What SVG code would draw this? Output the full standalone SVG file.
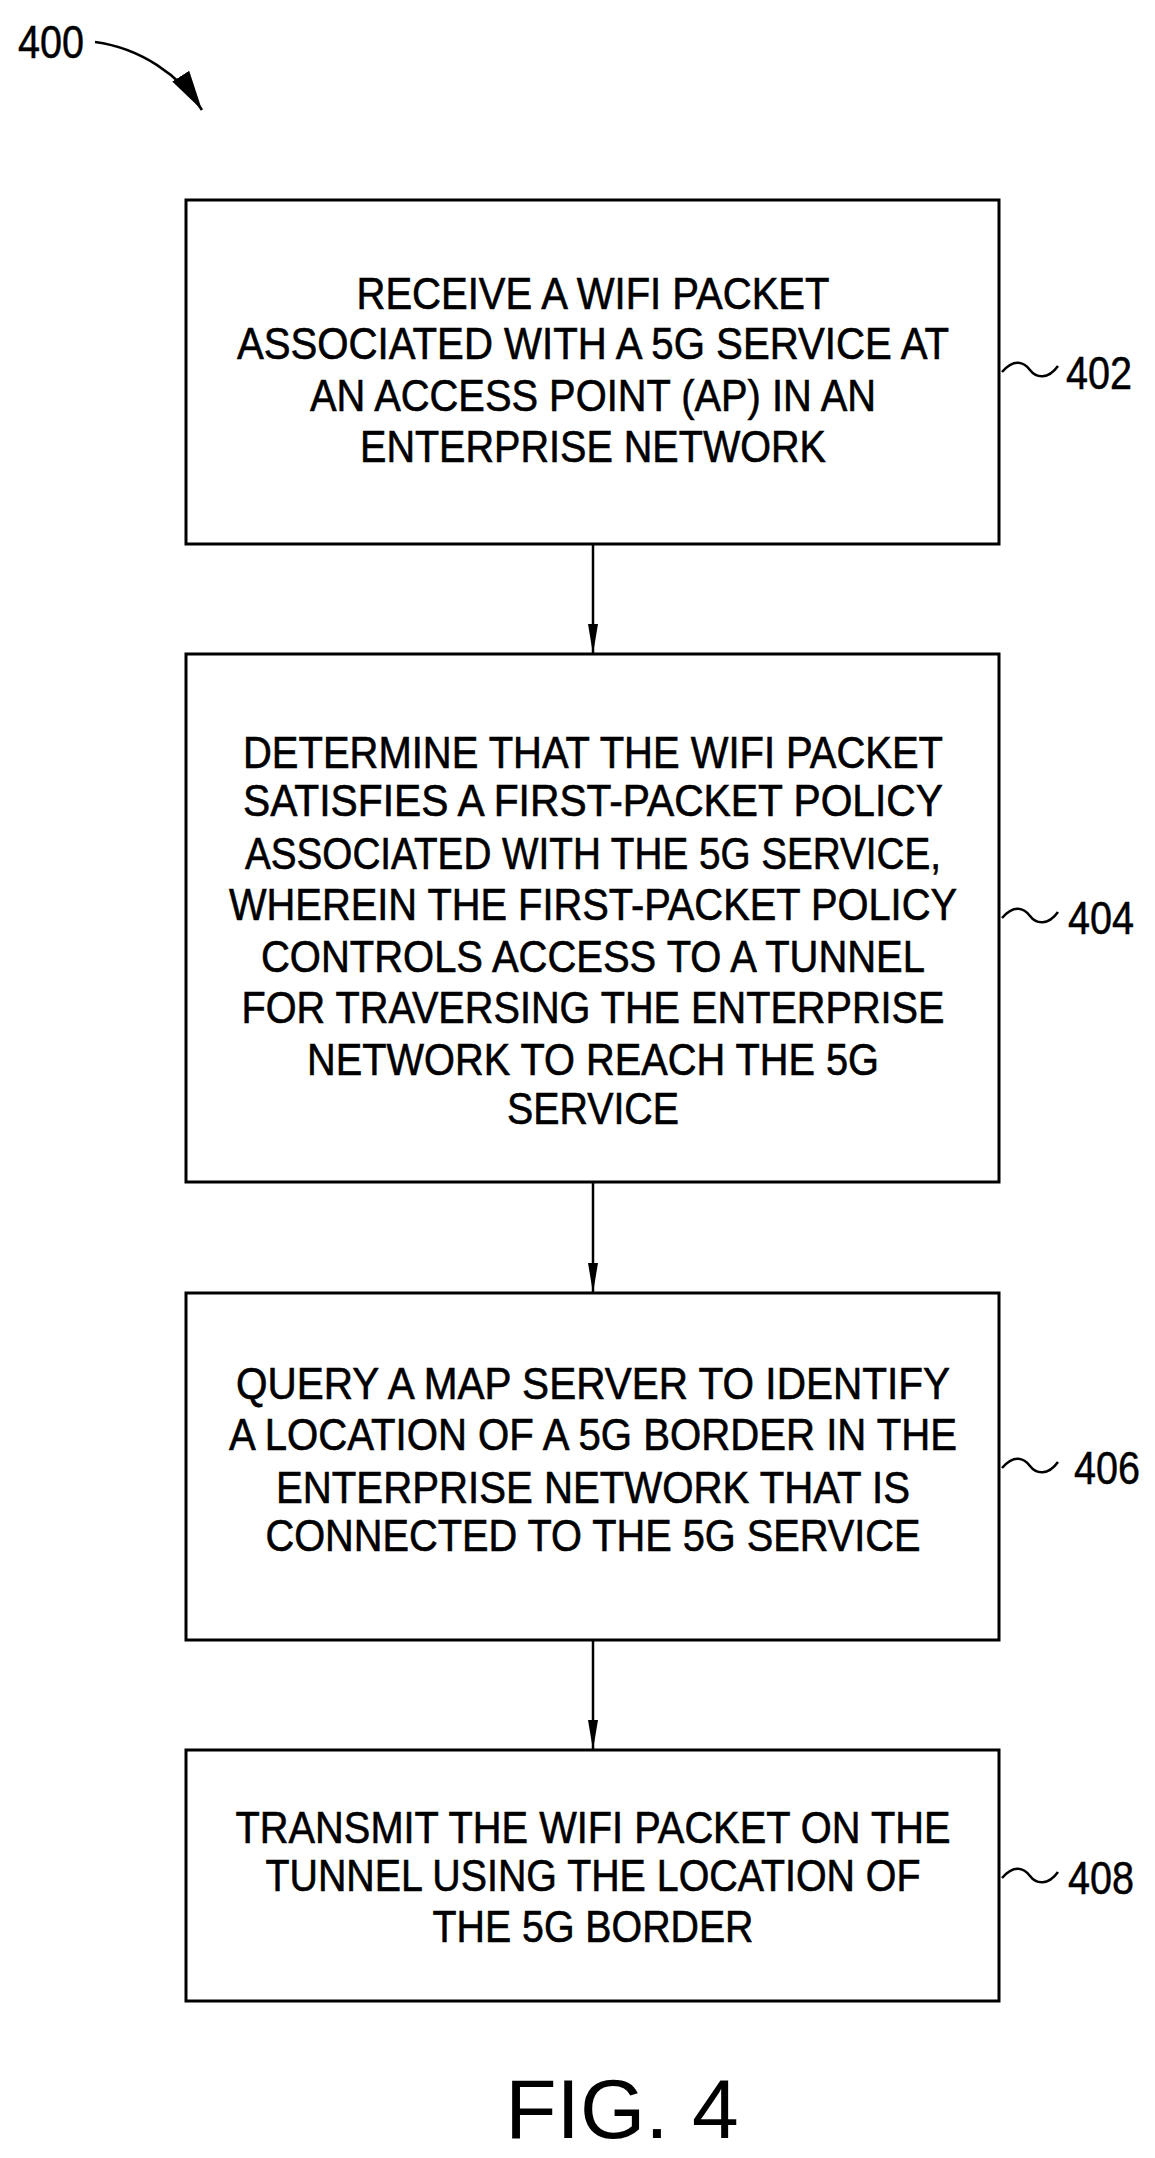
<svg xmlns="http://www.w3.org/2000/svg" width="1155" height="2158" viewBox="0 0 1155 2158">
<style>
.b{fill:#fff;stroke:#000;stroke-width:3}
.t{font-family:"Liberation Sans",Arial,sans-serif;font-size:44px;text-anchor:middle;fill:#000;stroke:#000;stroke-width:0.6}
.l{font-family:"Liberation Sans",Arial,sans-serif;font-size:46px;fill:#000;stroke:#000;stroke-width:0.5}
.c{fill:none;stroke:#000;stroke-width:2.5}
</style>
<defs><marker id="a" viewBox="0 0 30 10" refX="30" refY="5" markerWidth="30" markerHeight="10" markerUnits="userSpaceOnUse" orient="auto"><path d="M0,0 L30,5 L0,10 Z" fill="#000"/></marker>
<marker id="a2" viewBox="0 0 40 20" refX="40" refY="10" markerWidth="40" markerHeight="20" markerUnits="userSpaceOnUse" orient="auto"><path d="M0,0 L40,10 L0,20 Z" fill="#000"/></marker></defs>
<rect width="1155" height="2158" fill="#fff"/>
<g id="label400"><text class="l" x="18" y="58" textLength="66" lengthAdjust="spacingAndGlyphs">400</text>
<path class="c" d="M95,42 C140,48 180,75 202,110" marker-end="url(#a2)"/></g>
<g id="n402"><rect class="b" x="186" y="200" width="813" height="344"/>
<text class="t" x="593" y="309" textLength="473" lengthAdjust="spacingAndGlyphs">RECEIVE A WIFI PACKET</text>
<text class="t" x="593" y="359" textLength="712" lengthAdjust="spacingAndGlyphs">ASSOCIATED WITH A 5G SERVICE AT</text>
<text class="t" x="593" y="411" textLength="566" lengthAdjust="spacingAndGlyphs">AN ACCESS POINT (AP) IN AN</text>
<text class="t" x="593" y="462" textLength="466" lengthAdjust="spacingAndGlyphs">ENTERPRISE NETWORK</text>
<path class="c" d="M1002,372 c12,-14 22,-10 28,-2 s18,10 28,-4"/>
<text class="l" x="1066" y="389" textLength="66" lengthAdjust="spacingAndGlyphs">402</text></g>
<g id="n404"><rect class="b" x="186" y="654" width="813" height="528"/>
<text class="t" x="593" y="768" textLength="700" lengthAdjust="spacingAndGlyphs">DETERMINE THAT THE WIFI PACKET</text>
<text class="t" x="593" y="816" textLength="700" lengthAdjust="spacingAndGlyphs">SATISFIES A FIRST-PACKET POLICY</text>
<text class="t" x="593" y="869" textLength="696" lengthAdjust="spacingAndGlyphs">ASSOCIATED WITH THE 5G SERVICE,</text>
<text class="t" x="593" y="920" textLength="728" lengthAdjust="spacingAndGlyphs">WHEREIN THE FIRST-PACKET POLICY</text>
<text class="t" x="593" y="972" textLength="664" lengthAdjust="spacingAndGlyphs">CONTROLS ACCESS TO A TUNNEL</text>
<text class="t" x="593" y="1023" textLength="703" lengthAdjust="spacingAndGlyphs">FOR TRAVERSING THE ENTERPRISE</text>
<text class="t" x="593" y="1075" textLength="572" lengthAdjust="spacingAndGlyphs">NETWORK TO REACH THE 5G</text>
<text class="t" x="593" y="1124" textLength="172" lengthAdjust="spacingAndGlyphs">SERVICE</text>
<path class="c" d="M1002,918 c12,-14 22,-10 28,-2 s18,10 28,-4"/>
<text class="l" x="1068" y="934" textLength="66" lengthAdjust="spacingAndGlyphs">404</text></g>
<g id="n406"><rect class="b" x="186" y="1293" width="813" height="347"/>
<text class="t" x="593" y="1399" textLength="714" lengthAdjust="spacingAndGlyphs">QUERY A MAP SERVER TO IDENTIFY</text>
<text class="t" x="593" y="1450" textLength="728" lengthAdjust="spacingAndGlyphs">A LOCATION OF A 5G BORDER IN THE</text>
<text class="t" x="593" y="1503" textLength="634" lengthAdjust="spacingAndGlyphs">ENTERPRISE NETWORK THAT IS</text>
<text class="t" x="593" y="1551" textLength="655" lengthAdjust="spacingAndGlyphs">CONNECTED TO THE 5G SERVICE</text>
<path class="c" d="M1002,1468 c12,-14 22,-10 28,-2 s18,10 28,-4"/>
<text class="l" x="1074" y="1484" textLength="66" lengthAdjust="spacingAndGlyphs">406</text></g>
<g id="n408"><rect class="b" x="186" y="1750" width="813" height="251"/>
<text class="t" x="593" y="1843" textLength="715" lengthAdjust="spacingAndGlyphs">TRANSMIT THE WIFI PACKET ON THE</text>
<text class="t" x="593" y="1891" textLength="655" lengthAdjust="spacingAndGlyphs">TUNNEL USING THE LOCATION OF</text>
<text class="t" x="593" y="1942" textLength="321" lengthAdjust="spacingAndGlyphs">THE 5G BORDER</text>
<path class="c" d="M1002,1878 c12,-14 22,-10 28,-2 s18,10 28,-4"/>
<text class="l" x="1068" y="1894" textLength="66" lengthAdjust="spacingAndGlyphs">408</text></g>
<g id="connectors">
<line class="c" x1="593" y1="544" x2="593" y2="654" marker-end="url(#a)"/>
<line class="c" x1="593" y1="1182" x2="593" y2="1293" marker-end="url(#a)"/>
<line class="c" x1="593" y1="1640" x2="593" y2="1750" marker-end="url(#a)"/>
</g>
<text id="fig" x="622" y="2138" font-family="'Liberation Sans',Arial,sans-serif" font-size="84" text-anchor="middle">FIG. 4</text>
</svg>
